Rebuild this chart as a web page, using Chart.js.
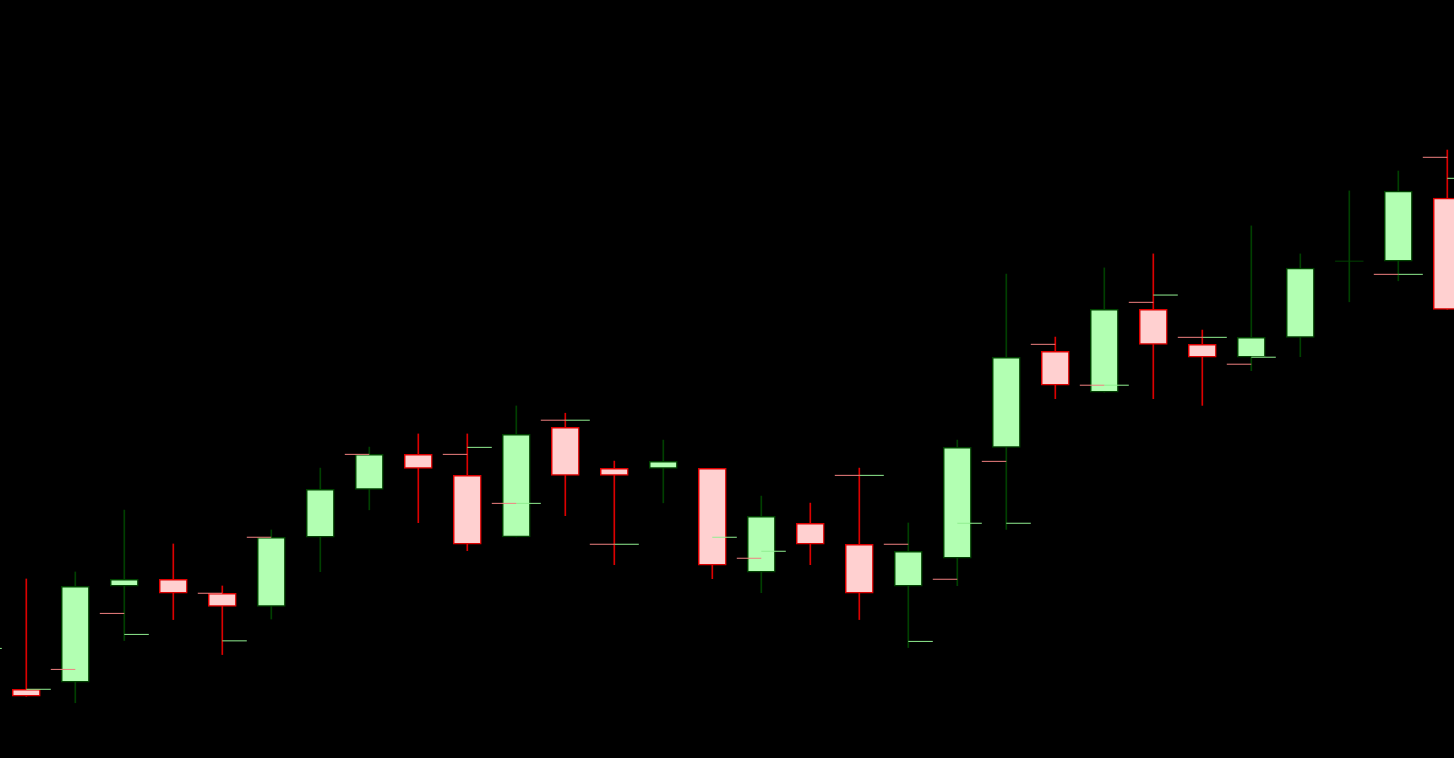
<!DOCTYPE html>
<html>
<head>
<meta charset="utf-8">
<script src="https://cdn.jsdelivr.net/npm/chart.js@4"></script>
<style>
  html, body { margin: 0; padding: 0; background: #000; overflow: hidden; }
  canvas { display: block; }
</style>
</head>
<body>
<canvas id="grafico" width="1454" height="758"></canvas>
<script>
// Datos OHLC (índice 0 queda fuera de la vista, sólo se ve su marca derecha)
var opens  = [null, 100.25, 100.5, 103.93, 104.18, 103.68, 103.21, 105.68, 107.39, 108.64, 107.89, 105.69, 109.61, 108.14, 108.14, 108.14, 104.43, 106.18, 105.43, 103.93, 104.93, 108.89, 112.32, 110.86, 113.82, 112.57, 112.11, 112.82, 115.54, 115.54, 117.79];
var highs  = [null, 104.19, 104.44, 106.65, 105.44, 103.94, 105.94, 108.15, 108.90, 109.37, 109.37, 110.37, 110.11, 108.40, 109.15, 108.14, 107.15, 106.90, 108.15, 106.19, 109.15, 115.08, 112.83, 115.30, 115.80, 113.08, 116.80, 115.80, 118.05, 118.76, 119.51];
var lows   = [null, 100.00, 99.77, 101.99, 102.74, 101.49, 102.76, 104.45, 106.66, 106.20, 105.20, 105.69, 106.45, 104.70, 106.91, 104.20, 103.70, 104.70, 102.74, 101.74, 103.95, 105.96, 110.63, 110.86, 110.63, 110.39, 111.63, 112.13, 114.09, 114.84, 113.82];
var closes = [null, 100.00, 103.93, 104.18, 103.68, 103.21, 105.68, 107.39, 108.64, 108.14, 105.43, 109.36, 107.89, 107.89, 108.39, 104.68, 106.43, 105.43, 103.68, 105.18, 108.89, 112.11, 111.11, 113.82, 112.57, 112.11, 112.82, 115.29, 115.54, 118.04, 113.82];
// Marcas horizontales: izquierda (rosa) y derecha (verde claro)
var leftTicks  = [null, null, 100.96, 102.96, null, 103.68, 105.68, null, 108.64, null, 108.64, 106.89, 109.86, 105.43, null, null, 104.93, null, 107.89, 105.43, 104.18, 108.39, 112.57, 111.11, 114.07, 112.82, 111.86, null, null, 115.07, 119.25];
var rightTicks = [101.71, 100.25, null, 102.21, null, 101.98, null, null, null, null, 108.89, 106.89, 109.86, 105.43, null, 105.68, 105.18, null, 107.89, 101.96, 106.18, 106.18, null, 111.11, 114.33, 112.82, 112.11, null, null, 115.07, 118.50];

var verdeRelleno = 'rgb(178,255,178)';
var verdeBorde = 'rgb(0,64,0)';
var rojoRelleno = 'rgb(255,208,208)';
var rojoBorde = 'rgb(220,0,0)';

document.addEventListener('DOMContentLoaded', function () {
    var cuerpos = [], mechas = [], dojis = [], izq = [], der = [];
    var colRelleno = [], colBorde = [], colMecha = [];

    opens.forEach(function (o, i) {
        if (o !== null) {
            var sube = closes[i] >= o;
            mechas.push({ x: i, y: [lows[i], highs[i]] });
            colMecha.push(sube ? verdeBorde : rojoBorde);
            if (o !== closes[i]) {
                cuerpos.push({ x: i, y: [o, closes[i]] });
                colRelleno.push(sube ? verdeRelleno : rojoRelleno);
                colBorde.push(sube ? verdeBorde : rojoBorde);
            } else {
                dojis.push({ x: i - 0.29, y: o }, { x: i + 0.29, y: o }, { x: i, y: null });
            }
        }
        if (leftTicks[i] !== null) {
            izq.push({ x: i - 0.5, y: leftTicks[i] }, { x: i, y: leftTicks[i] }, { x: i, y: null });
        }
        if (rightTicks[i] !== null) {
            der.push({ x: i, y: rightTicks[i] }, { x: i + 0.5, y: rightTicks[i] }, { x: i, y: null });
        }
    });

    function linea(datos, color, orden) {
        return {
            type: 'line', data: datos, borderColor: color, borderWidth: 1,
            pointRadius: 0, spanGaps: false, order: orden
        };
    }

    var ctx = document.getElementById('grafico').getContext('2d');
    new Chart(ctx, {
        type: 'bar',
        data: {
            datasets: [
                linea(izq, 'rgb(240,128,128)', 0),
                linea(der, 'rgb(144,238,144)', 0),
                {
                    type: 'bar', data: cuerpos, backgroundColor: colRelleno, borderColor: colBorde,
                    borderWidth: 1.5, borderSkipped: false, barThickness: 28, grouped: false, order: 1
                },
                linea(dojis, verdeBorde, 1),
                {
                    type: 'bar', data: mechas, backgroundColor: colMecha, borderWidth: 0,
                    barThickness: 1, grouped: false, order: 3
                }
            ]
        },
        options: {
            responsive: false,
            animation: false,
            events: [],
            layout: { padding: 0 },
            plugins: { legend: { display: false }, tooltip: { enabled: false } },
            scales: {
                x: { type: 'linear', display: false, min: 0.4633, max: 30.1367, offset: false },
                y: { type: 'linear', display: false, min: 97.796, max: 124.868 }
            }
        }
    });
});
</script>
</body>
</html>
